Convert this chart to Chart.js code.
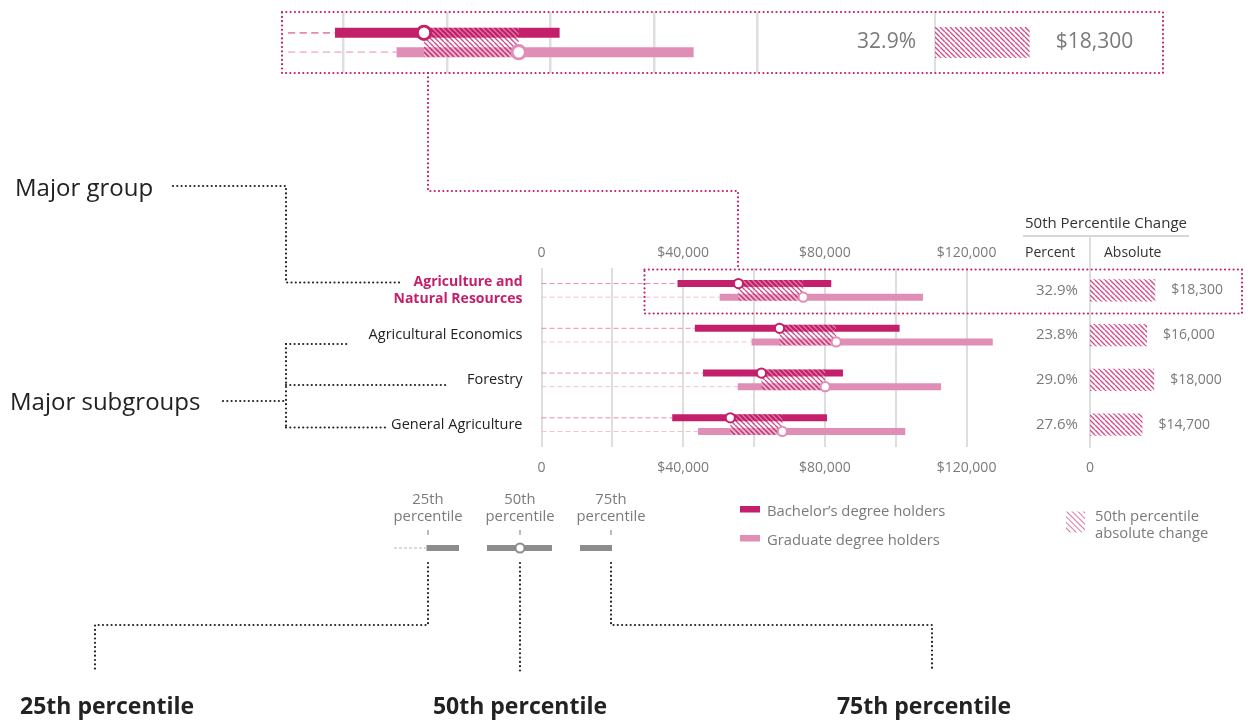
<!DOCTYPE html>
<html>
<head>
<meta charset="utf-8">
<script src="https://cdn.jsdelivr.net/npm/chart.js@4.4.1/dist/chart.umd.min.js"></script>
<style>
  html, body { margin: 0; padding: 0; background: #fff; }
  body { width: 1248px; height: 721px; position: relative; overflow: hidden; font-family: 'Open Sans', sans-serif; }
  .box { position: absolute; }
  #overlay { position: absolute; left: 0; top: 0; pointer-events: none; }
</style>
</head>
<body>

<div class="box" style="left:284px;top:12px;width:480px;height:61px"><canvas id="insetRange"></canvas></div>
<div class="box" style="left:780px;top:12px;width:383px;height:61px"><canvas id="insetChange"></canvas></div>
<div class="box" style="left:350px;top:230px;width:660px;height:255px"><canvas id="mainRange"></canvas></div>
<div class="box" style="left:1000px;top:230px;width:248px;height:255px"><canvas id="mainChange"></canvas></div>

<svg id="overlay" width="1248" height="721" xmlns="http://www.w3.org/2000/svg">
  <defs>
    <pattern id="hatch" width="4" height="4" patternUnits="userSpaceOnUse" patternTransform="rotate(-45)">
      <line x1="0" y1="0" x2="0" y2="4" stroke="#cf3a80" stroke-width="1.4"/>
    </pattern>
  </defs>
  <g fill="none" stroke-linecap="round" stroke-width="2.2" stroke-dasharray="0 4.3">
    <!-- black connectors -->
    <g stroke="#222">
      <path d="M173 186 H286 V282.5 H401"/>
      <path d="M223 401 H286"/>
      <path d="M286 344 V427.5"/>
      <path d="M286 344 H347"/>
      <path d="M286 385 H447"/>
      <path d="M286 427.5 H385"/>
      <path d="M428 563 V625 H95 V672"/>
      <path d="M520 563 V672"/>
      <path d="M611 563 V625 H932 V672"/>
    </g>
    <!-- magenta zoom frame -->
    <g stroke="#c41f6b">
      <path d="M282 12 H1163 V73 H282 Z"/>
      <path d="M644.5 269.5 H1242 V313.5 H644.5 Z"/>
      <path d="M428 73 V191 H738 V269"/>
    </g>
  </g>

  <!-- change column header -->
  <line x1="1023" y1="236" x2="1189" y2="236" stroke="#d6d6d6" stroke-width="2"/>
  <line x1="1090" y1="236" x2="1090" y2="268" stroke="#dedede" stroke-width="2"/>
  <g font-size="14" fill="#333" dominant-baseline="central">
    <text x="1025" y="222" font-size="15">50th Percentile Change</text>
    <text x="1025" y="251">Percent</text>
    <text x="1104" y="251">Absolute</text>
  </g>

  <!-- side annotations -->
  <g font-size="24" fill="#222" dominant-baseline="central">
    <text x="15" y="186">Major group</text>
    <text x="10" y="400">Major subgroups</text>
  </g>

  <!-- legend -->
  <rect x="740" y="506" width="20" height="6.5" fill="#c41f6b"/>
  <rect x="740" y="535" width="20" height="6.5" fill="#e08eb5"/>
  <rect x="1066" y="511.5" width="19" height="21" fill="url(#hatch)"/>
  <g font-size="14.8" fill="#7a7a7a" dominant-baseline="central">
    <text x="767" y="510">Bachelor’s degree holders</text>
    <text x="767" y="539">Graduate degree holders</text>
    <text x="1095" y="515">50th percentile</text>
    <text x="1095" y="532">absolute change</text>
  </g>

  <!-- percentile key -->
  <g font-size="14.8" fill="#7a7a7a" text-anchor="middle" dominant-baseline="central">
    <text x="428" y="498">25th</text><text x="428" y="515">percentile</text>
    <text x="520" y="498">50th</text><text x="520" y="515">percentile</text>
    <text x="611" y="498">75th</text><text x="611" y="515">percentile</text>
  </g>
  <g stroke="#8c8c8c" stroke-width="1.2">
    <line x1="428" y1="530" x2="428" y2="535"/>
    <line x1="520" y1="530" x2="520" y2="535"/>
    <line x1="611" y1="530" x2="611" y2="535"/>
  </g>
  <line x1="394" y1="548" x2="426" y2="548" stroke="#b5b5b5" stroke-width="1" stroke-dasharray="3 2"/>
  <rect x="426.5" y="545" width="32.5" height="6" fill="#8c8c8c"/>
  <rect x="487" y="545" width="65" height="6" fill="#8c8c8c"/>
  <circle cx="520" cy="548" r="4.5" fill="#fff" stroke="#8c8c8c" stroke-width="2"/>
  <rect x="580" y="545" width="32" height="6" fill="#8c8c8c"/>

  <g font-size="23" font-weight="bold" fill="#222" dominant-baseline="central">
    <text x="20" y="705">25th percentile</text>
    <text x="520" y="705" text-anchor="middle">50th percentile</text>
    <text x="924" y="705" text-anchor="middle">75th percentile</text>
  </g>
</svg>

<script>
/* ── data ─────────────────────────────────────── */

const CATEGORIES = [['Agriculture and', 'Natural Resources'], 'Agricultural Economics', 'Forestry', 'General Agriculture'];

const BACH_P25 = [38400, 43300, 45600, 36900];
const BACH_P50 = [55600, 67200, 62100, 53300];
const BACH_P75 = [81800, 101100, 85100, 80600];

const GRAD_P25 = [50300, 59300, 55400, 44200];
const GRAD_P50 = [73900, 83200, 80100, 68000];
const GRAD_P75 = [107700, 127400, 112800, 102700];

const PCT_CHANGE = [32.9, 23.8, 29.0, 27.6];
const ABS_CHANGE = [18300, 16000, 18000, 14700];

const SALARY_LABELS = [0, 40000, 80000, 120000];
const GRID_STEP = 20000;

/* ── styles ───────────────────────────────────── */

const BACH = '#c41f6b', GRAD = '#e08eb5';
const BACH_DASH = '#e68ab2', GRAD_DASH = '#f2c0d6';
const GRID = '#dedede', MUTED = '#7a7a7a';

Chart.defaults.font.family = "'Open Sans', sans-serif";

const money = v => v === 0 ? '0' : '$' + v.toLocaleString('en-US');

function diag(g, s, off) {
  g.beginPath();
  for (let o = -s; o <= s; o += s) { g.moveTo(o + off, 0); g.lineTo(o + off + s, s); }
  g.stroke();
}

function makeHatch(stripe, light) {
  const s = 5, c = document.createElement('canvas');
  c.width = c.height = s;
  const g = c.getContext('2d');
  g.lineWidth = 1.4;
  if (light) { g.strokeStyle = light; diag(g, s, s / 2); }
  g.strokeStyle = stripe; diag(g, s, 0);
  return g.createPattern(c, 'repeat');
}

const HATCH_OVER = makeHatch('rgba(196,31,107,0.8)', 'rgba(255,255,255,0.4)');
const HATCH_PLAIN = makeHatch('rgba(205,45,120,0.85)');

/* ── plugins ──────────────────────────────────── */

// dashed lead-in lines, hatched median gap and median rings
const rangeMarks = {
  id: 'rangeMarks',
  beforeDatasetsDraw(chart, args, o) {
    const ctx = chart.ctx, x = chart.scales.x, k = o.k;
    const x0 = Math.max(x.getPixelForValue(0), chart.chartArea.left + o.dashInset);
    ctx.save();
    ctx.lineWidth = o.dashWidth;
    ctx.setLineDash([5 * k, 3 * k]);
    chart.data.datasets.forEach((ds, di) => {
      ctx.strokeStyle = ds.dashColor;
      chart.getDatasetMeta(di).data.forEach(bar => {
        ctx.beginPath();
        ctx.moveTo(x0, bar.y);
        ctx.lineTo(Math.min(bar.x, bar.base), bar.y);
        ctx.stroke();
      });
    });
    ctx.restore();
  },
  afterDatasetsDraw(chart, args, o) {
    const ctx = chart.ctx, x = chart.scales.x, k = o.k;
    const [dsA, dsB] = chart.data.datasets;
    const barsA = chart.getDatasetMeta(0).data, barsB = chart.getDatasetMeta(1).data;
    ctx.save();
    barsA.forEach((a, i) => {
      const b = barsB[i];
      const xa = x.getPixelForValue(dsA.medians[i]), xb = x.getPixelForValue(dsB.medians[i]);
      const top = a.y - a.height / 2, bot = b.y + b.height / 2;
      ctx.fillStyle = HATCH_OVER;
      ctx.fillRect(xa, top, xb - xa, bot - top);
    });
    [[dsA, barsA], [dsB, barsB]].forEach(([ds, bars]) => {
      bars.forEach((bar, i) => {
        ctx.beginPath();
        ctx.arc(x.getPixelForValue(ds.medians[i]), bar.y, 4.6 * k, 0, Math.PI * 2);
        ctx.fillStyle = '#fff';
        ctx.fill();
        ctx.lineWidth = 2 * k;
        ctx.strokeStyle = ds.ringColor;
        ctx.stroke();
      });
    });
    ctx.restore();
  }
};

// dollar labels to the right of the change bars
const valueLabels = {
  id: 'valueLabels',
  afterDatasetsDraw(chart, args, o) {
    const ctx = chart.ctx, ds = chart.data.datasets[0];
    ctx.save();
    ctx.fillStyle = MUTED;
    ctx.font = o.size + "px 'Open Sans', sans-serif";
    ctx.textBaseline = 'middle';
    chart.getDatasetMeta(0).data.forEach((bar, i) => {
      ctx.fillText(money(ds.data[i]), bar.x + o.gap, bar.y);
    });
    ctx.restore();
  }
};

/* ── chart builders ───────────────────────────── */

// gridlines every $20k inside the visible range
function gridTicks(s) {
  const out = [];
  for (let v = Math.ceil(s.min / GRID_STEP) * GRID_STEP; v <= s.max; v += GRID_STEP) out.push({ value: v });
  s.ticks = out;
}

// fixed label column width, no overhang padding reserved for the labels
const fixWidth = w => s => { s.width = w; s.paddingTop = 0; s.paddingBottom = 0; };

function salaryAxis(extra) {
  return Object.assign({
    type: 'linear',
    afterBuildTicks: gridTicks,
    ticks: {
      autoSkip: false, maxRotation: 0,
      color: MUTED, font: { size: 14 },
      callback: v => SALARY_LABELS.includes(v) ? money(v) : ''
    },
    border: { display: false }
  }, extra);
}

function buildRange(id, idx, o) {
  const scales = {
    x: salaryAxis({
      min: o.min, max: o.max, position: 'bottom',
      grid: { color: GRID, lineWidth: o.gridWidth, drawTicks: false },
      afterFit: s => { s.height = o.axisH; }
    }),
    y: {
      type: 'category', display: o.showLabels,
      afterFit: fixWidth(o.yWidth),
      grid: { display: false, drawTicks: false }, border: { display: false },
      ticks: {
        padding: 19, autoSkip: false,
        color: c => c.index === 0 ? BACH : '#222',
        font: c => c.index === 0 ? { size: 14, weight: 'bold' } : { size: 14.5 }
      }
    }
  };
  if (o.axisH) {
    scales.x.ticks.padding = 13;
    scales.x2 = salaryAxis({
      min: o.min, max: o.max, position: 'top',
      grid: { display: false, drawTicks: false },
      afterFit: s => { s.height = o.axisH; }
    });
    scales.x2.ticks.padding = 7;
  } else {
    scales.x.ticks.display = false;
  }

  return new Chart(document.getElementById(id), {
    type: 'bar',
    data: {
      labels: idx.map(i => CATEGORIES[i]),
      datasets: [
        {
          label: 'Bachelor’s degree holders',
          data: idx.map(i => [BACH_P25[i], BACH_P75[i]]),
          medians: idx.map(i => BACH_P50[i]),
          backgroundColor: BACH, dashColor: BACH_DASH, ringColor: BACH,
          borderWidth: 0, borderSkipped: false
        },
        {
          label: 'Graduate degree holders',
          data: idx.map(i => [GRAD_P25[i], GRAD_P75[i]]),
          medians: idx.map(i => GRAD_P50[i]),
          backgroundColor: GRAD, dashColor: GRAD_DASH, ringColor: GRAD,
          borderWidth: 0, borderSkipped: false
        }
      ]
    },
    options: {
      indexAxis: 'y',
      responsive: true, maintainAspectRatio: false,
      animation: false, events: [],
      datasets: { bar: { categoryPercentage: o.catPct, barPercentage: 0.51 } },
      layout: { padding: { right: o.padRight } },
      plugins: {
        legend: { display: false }, tooltip: { enabled: false },
        rangeMarks: { k: o.k, dashInset: o.dashInset, dashWidth: o.dashWidth }
      },
      scales
    },
    plugins: [rangeMarks]
  });
}

function buildChange(id, idx, o) {
  return new Chart(document.getElementById(id), {
    type: 'bar',
    data: {
      labels: idx.map(i => PCT_CHANGE[i].toFixed(1) + '%'),
      datasets: [{
        label: '50th percentile absolute change',
        data: idx.map(i => ABS_CHANGE[i]),
        backgroundColor: HATCH_PLAIN, borderWidth: 0,
        categoryPercentage: 0.8, barPercentage: o.barPct
      }]
    },
    options: {
      indexAxis: 'y',
      responsive: true, maintainAspectRatio: false,
      animation: false, events: [],
      layout: { padding: { top: o.padTop, right: o.padRight } },
      plugins: {
        legend: { display: false }, tooltip: { enabled: false },
        valueLabels: { size: o.valueSize, gap: o.gap }
      },
      scales: {
        x: {
          type: 'linear', min: 0, max: 40000, display: o.showZero,
          afterBuildTicks: s => { s.ticks = [{ value: 0 }]; },
          ticks: { padding: 13, color: MUTED, font: { size: 14 }, callback: v => money(v) },
          grid: { display: false, drawTicks: false }, border: { display: false },
          afterFit: s => { s.height = o.showZero ? 38 : 0; }
        },
        y: {
          type: 'category',
          afterFit: fixWidth(o.yWidth),
          grid: { display: false, drawTicks: false },
          border: { display: true, color: GRID, width: 2 },
          ticks: { padding: o.pad, color: MUTED, font: { size: o.size } }
        }
      }
    },
    plugins: [valueLabels]
  });
}

/* ── init ─────────────────────────────────────── */

const ROWS = CATEGORIES.map((_, i) => i);

// main panel: value 0 sits at x=541.5, 3.567 px per $1,000
buildRange('mainRange', ROWS, {
  k: 1, min: 0, max: 130000, yWidth: 191.5, axisH: 38, padRight: 4.8,
  catPct: 0.61, gridWidth: 2, dashInset: 0, dashWidth: 1, showLabels: true
});
buildChange('mainChange', ROWS, {
  yWidth: 90, padTop: 38, padRight: 15.3, barPct: 0.615,
  pad: 12, size: 15, valueSize: 14, gap: 16, showZero: true
});

// zoomed inset of the first row (1.45x)
const INSET_LEFT = 284, INSET_RIGHT = 764, INSET_ZERO = 136.3, INSET_PX_PER_K = 5.175;
buildRange('insetRange', [0], {
  k: 1.45,
  min: (INSET_LEFT - INSET_ZERO) / INSET_PX_PER_K * 1000,
  max: (INSET_RIGHT - INSET_ZERO) / INSET_PX_PER_K * 1000,
  yWidth: 0, axisH: 0, padRight: 0, catPct: 0.636, gridWidth: 2.5,
  dashInset: 4, dashWidth: 1.8, showLabels: false
});
buildChange('insetChange', [0], {
  yWidth: 155, padTop: 0, padRight: 21, barPct: 0.635,
  pad: 19, size: 21, valueSize: 21, gap: 26, showZero: false
});
</script>
</body>
</html>
